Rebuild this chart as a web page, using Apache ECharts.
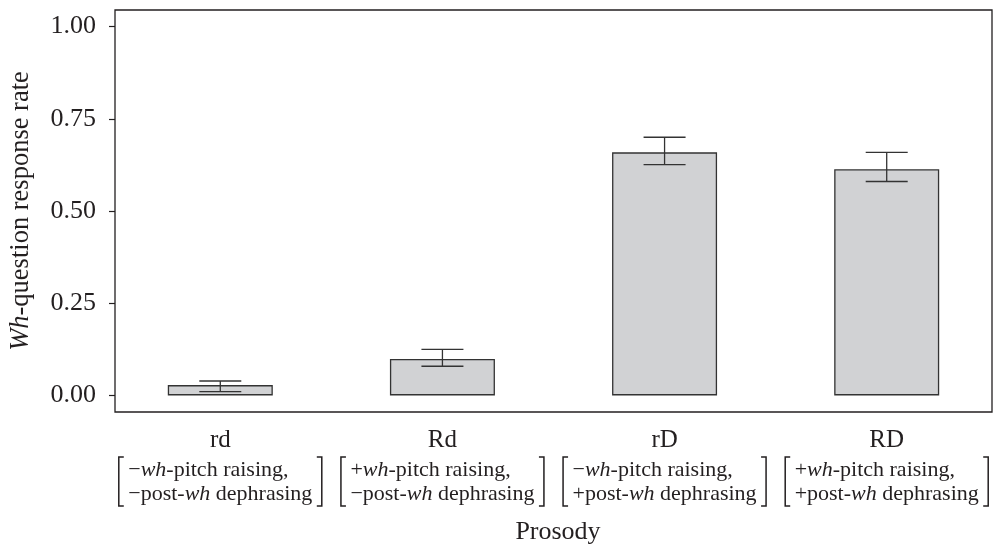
<!DOCTYPE html>
<html>
<head>
<meta charset="utf-8">
<script src="https://cdn.jsdelivr.net/npm/echarts@6/dist/echarts.min.js"></script>
<style>html,body{margin:0;padding:0;background:#fff}#c{width:993px;height:545px}</style>
</head>
<body>
<div id="c"></div>
<script>
const categories = ['rd', 'Rd', 'rD', 'RD'];
const pitchSign = ['−', '+', '−', '+'];
const dephrSign = ['−', '−', '+', '+'];
const means = [0.028, 0.099, 0.659, 0.613];
const lower = [0.010, 0.079, 0.626, 0.580];
const upper = [0.039, 0.125, 0.700, 0.659];
const yTicks = [0, 0.25, 0.5, 0.75, 1];

const FONT = '"Liberation Serif", "DejaVu Serif", serif';
const INK = '#231f20';
const xPos = categories.map((c, i) => i + 1);

const chart = echarts.init(document.getElementById('c'), null, {renderer: 'canvas'});
chart.setOption({
  animation: false,
  backgroundColor: '#fff',
  title: {
    text: 'Prosody', left: 553, top: 514, textAlign: 'center',
    textStyle: {fontFamily: FONT, fontSize: 26, fontWeight: 'normal', color: INK}
  },
  grid: {left: 113, right: 1, top: 10, bottom: 133, show: true, borderColor: INK, borderWidth: 1.3, backgroundColor: 'transparent'},
  xAxis: {
    type: 'value', min: 0.526, max: 4.474,
    axisLine: {show: false}, axisTick: {show: false}, splitLine: {show: false},
    axisLabel: {
      customValues: xPos,
      margin: 10,
      formatter: function (v) {
        const i = Math.round(v) - 1;
        return '{t|' + categories[i] + '}\n' +
          '{n|' + pitchSign[i] + '}{ni|wh}{n|-pitch raising,}\n' +
          '{n|' + dephrSign[i] + 'post-}{ni|wh}{n| dephrasing}';
      },
      rich: {
        t: {fontFamily: FONT, fontSize: 25, lineHeight: 36, align: 'center', color: INK},
        n: {fontFamily: FONT, fontSize: 22, lineHeight: 24, align: 'left', color: INK},
        ni: {fontFamily: FONT, fontSize: 22, lineHeight: 24, align: 'left', fontStyle: 'italic', color: INK}
      }
    }
  },
  yAxis: {
    type: 'value', min: -0.045, max: 1.045,
    splitLine: {show: false},
    axisLine: {show: false},
    axisTick: {show: true, length: 6, customValues: yTicks, lineStyle: {color: INK, width: 1.2}},
    axisLabel: {
      customValues: yTicks, margin: 19,
      fontFamily: FONT, fontSize: 26, color: INK,
      formatter: v => v.toFixed(2)
    },
    name: '{i|Wh}{r|-question response rate}',
    nameLocation: 'middle', nameRotate: 90, nameGap: 80,
    nameTextStyle: {
      rich: {
        i: {fontFamily: FONT, fontSize: 26.5, fontStyle: 'italic', color: INK},
        r: {fontFamily: FONT, fontSize: 26.5, color: INK}
      }
    }
  },
  series: [
    {
      type: 'bar', barWidth: 105,
      data: xPos.map((x, i) => [x, means[i]]),
      itemStyle: {color: '#d1d2d4', borderColor: '#333', borderWidth: 1.3},
      z: 2
    },
    {
      type: 'custom', z: 5,
      data: xPos.map((x, i) => [x, lower[i], upper[i]]),
      renderItem: function (params, api) {
        const x = api.value(0);
        const lo = api.coord([x, api.value(1)]);
        const hi = api.coord([x, api.value(2)]);
        const hw = 21;
        const st = {stroke: '#333', lineWidth: 1.3};
        return {
          type: 'group',
          children: [
            {type: 'line', shape: {x1: lo[0], y1: lo[1], x2: hi[0], y2: hi[1]}, style: st},
            {type: 'line', shape: {x1: hi[0] - hw, y1: hi[1], x2: hi[0] + hw, y2: hi[1]}, style: st},
            {type: 'line', shape: {x1: lo[0] - hw, y1: lo[1], x2: lo[0] + hw, y2: lo[1]}, style: st}
          ]
        };
      }
    }
  ]
});

// square brackets around each two-line feature description
const gfx = [];
xPos.forEach(function (x) {
  const cx = chart.convertToPixel({xAxisIndex: 0}, x);
  const y1 = 457, y2 = 506, off = 101.5, arm = 5;
  const st = {stroke: INK, lineWidth: 1.5, fill: null};
  gfx.push({type: 'polyline', shape: {points: [[cx - off + arm, y1], [cx - off, y1], [cx - off, y2], [cx - off + arm, y2]]}, style: st});
  gfx.push({type: 'polyline', shape: {points: [[cx + off - arm, y1], [cx + off, y1], [cx + off, y2], [cx + off - arm, y2]]}, style: st});
});
chart.setOption({graphic: gfx});
</script>
</body>
</html>
